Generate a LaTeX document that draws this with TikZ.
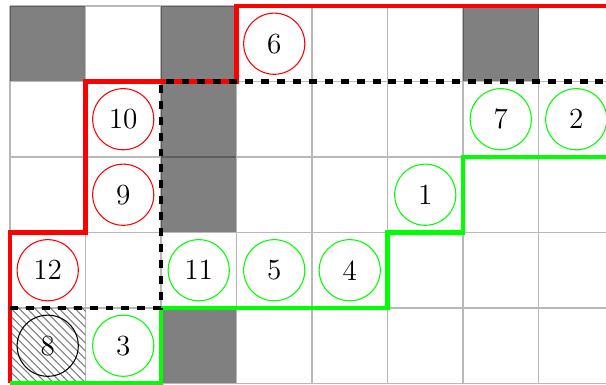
\documentclass[tikz,border=0pt]{standalone}
\usetikzlibrary{patterns}
\begin{document}
\begin{tikzpicture}[x=1cm,y=1cm,
  darkcell/.style={fill=gray},
  gridline/.style={draw=black,opacity=0.28,line width=0.5pt},
  tok/.style={circle,draw,thin,minimum size=0.81cm,inner sep=0pt,font=\fontsize{11}{13}\selectfont},
  redtok/.style={tok,draw=red},
  greentok/.style={tok,draw=green},
  blacktok/.style={tok,draw=black},
  redpath/.style={draw=red,line width=1.6pt},
  greenpath/.style={draw=green,line width=1.6pt},
  dashpath/.style={draw=black,line width=1.6pt,dashed}]
\useasboundingbox (-0.132,-0.02) rectangle (7.894,5.079);
% dark cells
\fill[darkcell] (0,4) rectangle (1,5);
\fill[darkcell] (2,4) rectangle (3,5);
\fill[darkcell] (6,4) rectangle (7,5);
\fill[darkcell] (2,2) rectangle (3,4);
\fill[darkcell] (2,0) rectangle (3,1);
% hatched cell
\fill[pattern=north west lines,pattern color=gray] (0,0) rectangle (1,1);
% grid
\draw[gridline] (0,0) grid (8,5);
% tokens
\node[redtok] (n6) at (3.5,4.5) {6};
\node[redtok] (n10) at (1.5,3.5) {10};
\node[greentok] (n7) at (6.5,3.5) {7};
\node[greentok] (n2) at (7.5,3.5) {2};
\node[redtok] (n9) at (1.5,2.5) {9};
\node[greentok] (n1) at (5.5,2.5) {1};
\node[redtok] (n12) at (0.5,1.5) {12};
\node[greentok] (n11) at (2.5,1.5) {11};
\node[greentok] (n5) at (3.5,1.5) {5};
\node[greentok] (n4) at (4.5,1.5) {4};
\node[blacktok] (n8) at (0.5,0.5) {8};
\node[greentok] (n3) at (1.5,0.5) {3};
% boundaries
\coordinate (r0) at (0,0);
\coordinate (r1) at (0,2);
\coordinate (r2) at (1,2);
\coordinate (r3) at (1,4);
\coordinate (r4) at (3,4);
\coordinate (r5) at (3,5);
\coordinate (r6) at (8,5);
\draw[redpath] (r0) -- (r1) -- (r2) -- (r3) -- (r4) -- (r5) -- (r6);
\coordinate (g0) at (0,0);
\coordinate (g1) at (2,0);
\coordinate (g2) at (2,1);
\coordinate (g3) at (5,1);
\coordinate (g4) at (5,2);
\coordinate (g5) at (6,2);
\coordinate (g6) at (6,3);
\coordinate (g7) at (8,3);
\draw[greenpath] (g0) -- (g1) -- (g2) -- (g3) -- (g4) -- (g5) -- (g6) -- (g7);
\coordinate (d0) at (0,1);
\coordinate (d1) at (2,1);
\coordinate (d2) at (2,4);
\coordinate (d3) at (8,4);
\draw[dashpath] (d0) -- (d1) -- (d2) -- (d3);
\end{tikzpicture}
\end{document}
